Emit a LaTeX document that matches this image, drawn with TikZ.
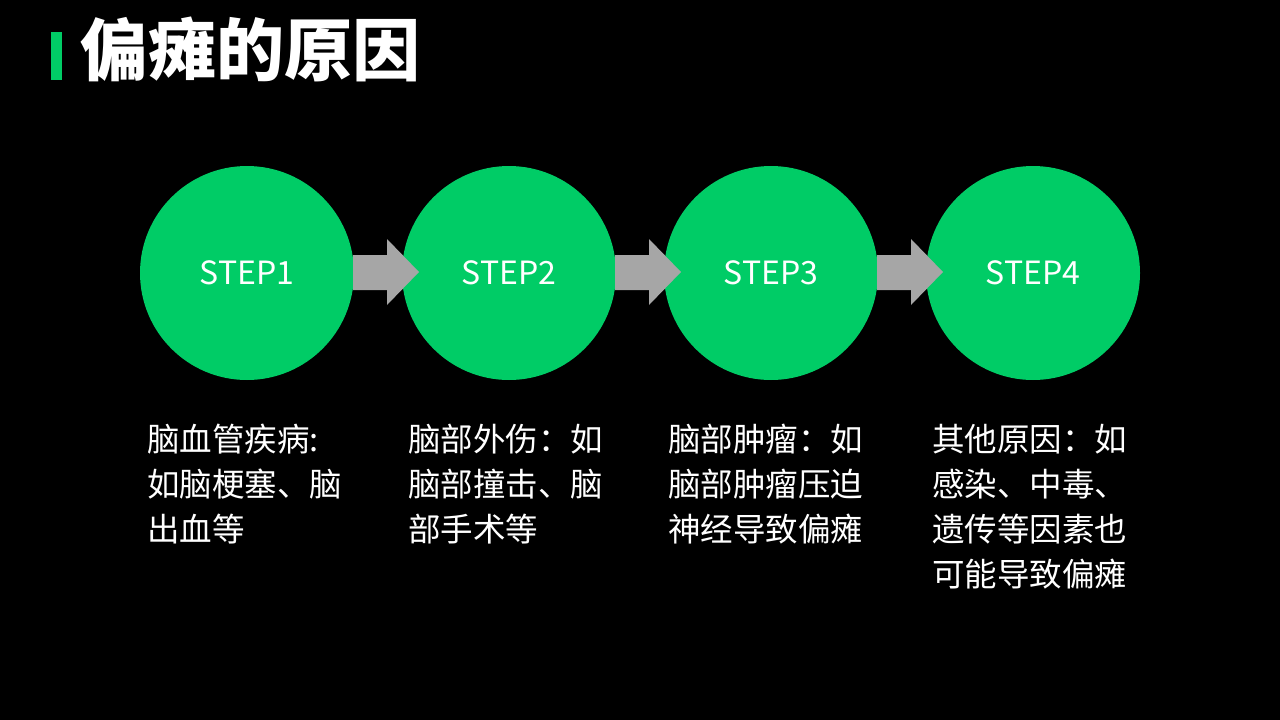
\documentclass[tikz,border=0pt]{standalone}
\usepackage{fontspec}
\newfontfamily\cjk{Noto Sans CJK SC}
\definecolor{stepgreen}{HTML}{00CC66}
\definecolor{arrowgray}{HTML}{A6A6A6}
\tikzset{
  stepcircle/.style={circle, fill=stepgreen, draw=none, minimum size=214pt, inner sep=0pt,
    text=white, font=\cjk\fontsize{32}{32}\selectfont},
  desc/.style={anchor=north west, inner sep=0pt, align=left, text=white,
    font=\cjk\fontsize{32.5}{45}\selectfont},
  blockarrow/.style={fill=arrowgray, draw=none}
}
\begin{document}
\begin{tikzpicture}[x=1pt,y=-1pt]
\fill[black] (0,0) rectangle (1280,720);
\useasboundingbox (0,0) rectangle (1280,720);
% title
\fill[stepgreen] (51,32) rectangle (62,80);
\node[anchor=base west, inner sep=0pt, text=white, font=\cjk\bfseries\fontsize{68}{68}\selectfont] (title) at (80,75) {偏瘫的原因};
% circles
\foreach \i/\x in {1/247,2/509,3/771,4/1033}{
  \node[stepcircle] (c\i) at (\x,273) {STEP\i};
}
% arrows
\foreach \i/\x in {1/247,2/509,3/771}{
  \fill[blockarrow] (\x+106,255) -- (\x+140,255) -- (\x+140,239) -- (\x+172,272) -- (\x+140,305) -- (\x+140,290) -- (\x+106,290) -- cycle;
}
% descriptions
\node[desc] (d1) at (147,424) {脑血管疾病:\\如脑梗塞、脑\\出血等};
\node[desc] (d2) at (408,424) {脑部外伤：如\\脑部撞击、脑\\部手术等};
\node[desc] (d3) at (668,424) {脑部肿瘤：如\\脑部肿瘤压迫\\神经导致偏瘫};
\node[desc] (d4) at (932,424) {其他原因：如\\感染、中毒、\\遗传等因素也\\可能导致偏瘫};
\end{tikzpicture}
\end{document}
